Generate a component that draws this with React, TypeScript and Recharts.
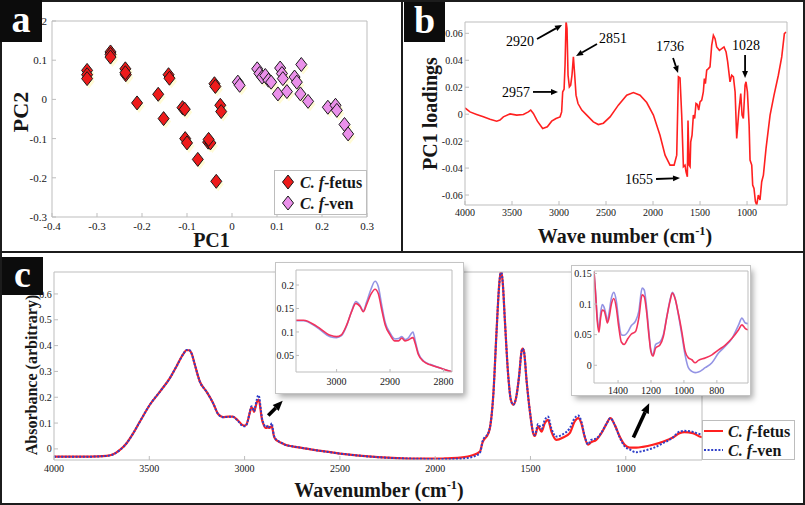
import React from 'react';
import { ScatterChart, Scatter, LineChart, Line, XAxis, YAxis, ReferenceLine, Legend, Label } from 'recharts';

const SERIF = "'Liberation Serif', 'Times New Roman', Times, serif";
const FRAME = '#bdbdbd';
const INK = '#161616';

// ---------- Panel a : PCA scores ----------
const seriesNames = ['C. f-fetus', 'C. f-ven'];
const fetusPC1 = [-0.322, -0.322, -0.322, -0.270, -0.270, -0.270, -0.237, -0.236, -0.237, -0.211, -0.164, -0.152, -0.141, -0.139, -0.110, -0.105, -0.104, -0.100, -0.076, -0.053, -0.048, -0.052, -0.039, -0.037, -0.035, -0.026, -0.024];
const fetusPC2 = [0.074, 0.063, 0.053, 0.121, 0.115, 0.108, 0.078, 0.063, 0.068, -0.009, 0.013, -0.049, 0.063, 0.054, -0.021, -0.025, -0.100, -0.111, -0.153, -0.109, -0.111, -0.102, 0.040, 0.033, -0.209, -0.015, -0.031];
const venPC1 = [0.013, 0.017, 0.056, 0.061, 0.067, 0.074, 0.081, 0.087, 0.102, 0.107, 0.111, 0.113, 0.122, 0.139, 0.144, 0.152, 0.154, 0.169, 0.213, 0.230, 0.233, 0.250, 0.258];
const venPC2 = [0.044, 0.036, 0.078, 0.066, 0.057, 0.061, 0.049, 0.044, 0.014, 0.080, 0.066, 0.053, 0.020, 0.057, 0.044, 0.014, 0.089, -0.005, -0.020, -0.015, -0.028, -0.064, -0.088];
const pc1Ticks = [-0.4, -0.3, -0.2, -0.1, 0, 0.1, 0.2, 0.3];
const pc2Ticks = [-0.3, -0.2, -0.1, 0, 0.1, 0.2];

// ---------- Panel b : PC1 loadings ----------
const loadingWn = [4000, 3947, 3876, 3805, 3734, 3663, 3628, 3592, 3521, 3450, 3379, 3326, 3301, 3273, 3230, 3174, 3124, 3078, 3032, 2989, 2972, 2961, 2946, 2936, 2925, 2915, 2904, 2890, 2876, 2862, 2847, 2833, 2819, 2798, 2758, 2705, 2635, 2582, 2528, 2457, 2369, 2280, 2209, 2138, 2067, 1996, 1926, 1872, 1819, 1776, 1748, 1730, 1713, 1695, 1677, 1660, 1649, 1635, 1628, 1617, 1606, 1599, 1585, 1571, 1557, 1543, 1528, 1514, 1500, 1482, 1465, 1454, 1443, 1429, 1411, 1394, 1376, 1358, 1340, 1323, 1294, 1269, 1245, 1223, 1206, 1181, 1163, 1145, 1127, 1110, 1088, 1067, 1053, 1039, 1021, 1011, 996, 978, 968, 950, 940, 926, 911, 897, 880, 862, 844, 826, 798, 755, 713, 667, 631, 603, 585];
const loadingVal = [0.0046, 0.0017, -0.0002, -0.002, -0.0037, -0.0052, -0.0044, -0.002, 0.0002, -0.0007, -0.0002, 0.0017, 0.003, 0.0005, -0.0052, -0.0106, -0.0094, -0.0052, -0.0032, -0.002, 0.0017, 0.0165, 0.0185, 0.0363, 0.069, 0.0635, 0.0289, 0.0202, 0.0215, 0.0289, 0.0425, 0.0289, 0.0141, 0.0079, 0.003, -0.0007, -0.0057, -0.0077, -0.0067, -0.002, 0.0067, 0.0141, 0.016, 0.0141, 0.0086, -0.0007, -0.0156, -0.0304, -0.0378, -0.0378, -0.0304, 0.0277, 0.0269, -0.0007, -0.039, -0.0378, -0.0427, -0.0464, -0.0047, -0.0378, -0.039, -0.0205, -0.0156, -0.0007, -0.0032, 0.0079, 0.0072, 0.003, 0.0091, 0.0104, 0.0165, 0.0264, 0.0227, 0.0326, 0.0338, 0.0351, 0.0511, 0.0585, 0.056, 0.0499, 0.0474, 0.0486, 0.0499, 0.0462, 0.0388, 0.024, 0.0289, 0.0277, 0.0165, -0.018, 0.0017, 0.0153, -0.0007, -0.0032, 0.0215, 0.024, 0.0165, -0.0081, -0.0341, -0.0378, -0.0526, -0.0551, -0.0649, -0.0674, -0.06, -0.0637, -0.0501, -0.0452, -0.0254, -0.0007, 0.0141, 0.0289, 0.0425, 0.0598, 0.061];
const loadingXTicks = [4000, 3500, 3000, 2500, 2000, 1500, 1000];
const loadingYTicks = [-0.06, -0.04, -0.02, 0, 0.02, 0.04, 0.06];
const peakLabels = ['2920', '2851', '2957', '1736', '1028', '1655'];
const peakArrowStart = [[3234, 0.0558], [2596, 0.0521], [3277, 0.0165], [1787, 0.0417], [1021, 0.044], [1968, -0.0481]];
const peakArrowEnd = [[2968, 0.0662], [2819, 0.0432], [3011, 0.0165], [1734, 0.0306], [1021, 0.0269], [1713, -0.0474]];

// ---------- Panel c : mean spectra ----------
const specWn = [4000, 3900, 3811, 3724, 3689, 3654, 3619, 3584, 3549, 3497, 3444, 3392, 3357, 3322, 3305, 3291, 3279, 3261, 3235, 3200, 3165, 3139, 3113, 3087, 3062, 3037, 3012, 3000, 2991, 2981, 2972, 2964, 2956, 2950, 2944, 2936, 2928, 2922, 2916, 2909, 2900, 2891, 2884, 2878, 2872, 2866, 2857, 2853, 2847, 2837, 2825, 2806, 2787, 2750, 2700, 2600, 2500, 2400, 2300, 2200, 2100, 2000, 1950, 1870, 1800, 1765, 1751, 1740, 1730, 1713, 1695, 1678, 1664, 1655, 1646, 1634, 1617, 1603, 1590, 1576, 1559, 1547, 1541, 1534, 1520, 1503, 1486, 1477, 1460, 1442, 1425, 1408, 1390, 1364, 1329, 1294, 1268, 1250, 1233, 1216, 1198, 1181, 1155, 1128, 1102, 1081, 1058, 1032, 1006, 980, 945, 910, 858, 805, 753, 718, 692, 648, 613, 600];
const specFetus = [
  -0.030, -0.030, -0.030, -0.027, -0.021, -0.004, 0.022, 0.061, 0.106, 0.171,
  0.222, 0.274, 0.320, 0.367, 0.382, 0.382, 0.371, 0.326, 0.261, 0.222,
  0.177, 0.135, 0.123, 0.125, 0.125, 0.112, 0.093, 0.090, 0.094, 0.115,
  0.143, 0.161, 0.154, 0.143, 0.158, 0.180, 0.191, 0.182, 0.150, 0.115,
  0.094, 0.081, 0.081, 0.087, 0.081, 0.083, 0.088, 0.076, 0.052, 0.037,
  0.030, 0.023, 0.016, 0.010, 0.004, -0.008, -0.018, -0.026, -0.032, -0.036,
  -0.038, -0.038, -0.037, -0.034, -0.024, -0.010, 0.026, 0.040, 0.048, 0.080,
  0.209, 0.455, 0.636, 0.690, 0.649, 0.494, 0.287, 0.190, 0.171, 0.196,
  0.287, 0.377, 0.388, 0.377, 0.261, 0.145, 0.061, 0.050, 0.087, 0.067,
  0.099, 0.112, 0.067, 0.035, 0.044, 0.061, 0.106, 0.119, 0.099, 0.048,
  0.016, 0.026, 0.035, 0.061, 0.096, 0.119, 0.093, 0.048, 0.016, 0.005,
  0.005, 0.008, 0.016, 0.028, 0.044, 0.061, 0.065, 0.061, 0.048, 0.045,
];
const specVen = [
  -0.030, -0.030, -0.030, -0.027, -0.021, -0.004, 0.022, 0.061, 0.106, 0.171,
  0.222, 0.274, 0.320, 0.367, 0.383, 0.383, 0.371, 0.326, 0.261, 0.222,
  0.177, 0.135, 0.123, 0.124, 0.124, 0.110, 0.090, 0.088, 0.092, 0.114,
  0.144, 0.165, 0.156, 0.145, 0.163, 0.190, 0.208, 0.197, 0.160, 0.120,
  0.098, 0.085, 0.086, 0.090, 0.084, 0.087, 0.100, 0.082, 0.055, 0.038,
  0.031, 0.023, 0.016, 0.010, 0.004, -0.008, -0.018, -0.026, -0.032, -0.036,
  -0.038, -0.039, -0.039, -0.038, -0.030, -0.015, 0.030, 0.046, 0.052, 0.082,
  0.209, 0.455, 0.636, 0.690, 0.649, 0.494, 0.287, 0.190, 0.171, 0.196,
  0.287, 0.377, 0.388, 0.377, 0.261, 0.145, 0.064, 0.054, 0.096, 0.078,
  0.112, 0.125, 0.078, 0.048, 0.057, 0.080, 0.119, 0.129, 0.106, 0.050,
  0.018, 0.035, 0.040, 0.063, 0.096, 0.119, 0.093, 0.045, 0.010, -0.002,
  -0.013, -0.008, 0.003, 0.022, 0.044, 0.067, 0.070, 0.066, 0.058, 0.057,
];
const specXTicks = [4000, 3500, 3000, 2500, 2000, 1500, 1000];
const specYTicks = [0, 0.1, 0.2, 0.3, 0.4, 0.5, 0.6];
const zoomArrowStart = [[2876, 0.129], [960, 0.044]];
const zoomArrowEnd = [[2800, 0.186], [877, 0.177]];

// inset 1 (C-H stretching region) uses the spectrum arrays above
const insetHiXTicks = [3000, 2900, 2800];
const insetHiYTicks = [0.05, 0.1, 0.15, 0.2];

// inset 2 (fingerprint region)
const insetLoWn = [1546, 1536, 1526, 1516, 1506, 1496, 1485, 1475, 1465, 1455, 1441, 1426, 1410, 1396, 1380, 1363, 1339, 1319, 1294, 1274, 1254, 1241, 1227, 1213, 1201, 1188, 1172, 1146, 1125, 1105, 1085, 1070, 1054, 1034, 1013, 993, 973, 952, 932, 912, 871, 830, 790, 749, 708, 668, 648, 627, 611];
const insetLoFetus = [0.153, 0.115, 0.072, 0.054, 0.077, 0.090, 0.089, 0.080, 0.069, 0.077, 0.099, 0.109, 0.093, 0.063, 0.038, 0.034, 0.044, 0.051, 0.055, 0.077, 0.115, 0.112, 0.088, 0.050, 0.023, 0.015, 0.028, 0.033, 0.047, 0.077, 0.104, 0.118, 0.109, 0.085, 0.055, 0.023, 0.012, 0.009, 0.004, 0.008, 0.012, 0.017, 0.025, 0.033, 0.044, 0.058, 0.066, 0.060, 0.058];
const insetLoVen = [0.153, 0.118, 0.078, 0.058, 0.085, 0.099, 0.095, 0.085, 0.072, 0.085, 0.109, 0.119, 0.104, 0.072, 0.050, 0.049, 0.055, 0.065, 0.072, 0.088, 0.126, 0.123, 0.095, 0.055, 0.025, 0.017, 0.034, 0.038, 0.050, 0.078, 0.106, 0.119, 0.110, 0.083, 0.050, 0.017, -0.004, -0.010, -0.012, -0.011, -0.004, 0.004, 0.020, 0.031, 0.044, 0.066, 0.077, 0.069, 0.068];
const insetLoXTicks = [1400, 1200, 1000, 800];
const insetLoYTicks = [0, 0.05, 0.1, 0.15];

// ---------- built tables ----------
const fetusScores = fetusPC1.map((x, i) => ({ x, y: fetusPC2[i] }));
const venScores = venPC1.map((x, i) => ({ x, y: venPC2[i] }));
const loadingData = loadingWn.map((wn, i) => ({ wn, v: loadingVal[i] }));
const specData = specWn.map((wn, i) => ({ wn, fetus: specFetus[i], ven: specVen[i] }));
const insetLoData = insetLoWn.map((wn, i) => ({ wn, fetus: insetLoFetus[i], ven: insetLoVen[i] }));

// ---------- helpers ----------
const tickFont = (size: number) => ({ fontSize: size, fill: INK, fontFamily: SERIF });
const frameLine = { stroke: FRAME, strokeWidth: 1 };

const renderName = (name: string) => {
  const i = name.indexOf('-');
  return (
    <>
      <tspan fontStyle="italic">{name.slice(0, i)}</tspan>
      <tspan>{name.slice(i)}</tspan>
    </>
  );
};

const xTitle = (content: React.ReactNode, size: number, dy: number, dx: number) => (p: any) => {
  const vb = p && p.viewBox ? p.viewBox : { x: 0, y: 0, width: 0, height: 0 };
  return (
    <text x={vb.x + vb.width / 2 + dx} y={vb.y + dy} textAnchor="middle" fontFamily={SERIF} fontWeight="bold" fontSize={size} fill={INK}>
      {content}
    </text>
  );
};
const yTitle = (content: React.ReactNode, size: number, cxOff: number, cyShift: number) => (p: any) => {
  const vb = p && p.viewBox ? p.viewBox : { x: 0, y: 0, width: 0, height: 0 };
  const cx = vb.x + cxOff;
  const cy = vb.y + vb.height / 2 + cyShift;
  return (
    <text x={cx} y={cy} transform={`rotate(-90 ${cx} ${cy})`} textAnchor="middle" dominantBaseline="central" fontFamily={SERIF} fontWeight="bold" fontSize={size} fill={INK}>
      {content}
    </text>
  );
};
const cmInv = (base: string, size: number) => (
  <>
    <tspan>{base} (cm</tspan>
    <tspan dy={-size * 0.42} fontSize={size * 0.62}>-1</tspan>
    <tspan dy={size * 0.42}>)</tspan>
  </>
);

const arrowShape = (width: number, head: number, text?: string, anchor?: string, dx = 0, dy = 0, fontSize = 14) => (p: any) => {
  const { x1, y1, x2, y2 } = p;
  if (![x1, y1, x2, y2].every((v) => typeof v === 'number' && isFinite(v))) return <g />;
  const ang = Math.atan2(y2 - y1, x2 - x1);
  const hx = x2 - head * Math.cos(ang);
  const hy = y2 - head * Math.sin(ang);
  const px = -Math.sin(ang) * head * 0.42;
  const py = Math.cos(ang) * head * 0.42;
  return (
    <g>
      <line x1={x1} y1={y1} x2={hx} y2={hy} stroke="#000" strokeWidth={width} />
      <polygon points={`${x2},${y2} ${hx + px},${hy + py} ${hx - px},${hy - py}`} fill="#000" />
      {text ? (
        <text x={x1 + dx} y={y1 + dy} textAnchor={anchor as any} dominantBaseline="central" fontFamily={SERIF} fontSize={fontSize} fill="#000">
          {text}
        </text>
      ) : null}
    </g>
  );
};

const diamondShape = (fill: string, shadow: boolean) => (p: any) => {
  const { cx, cy } = p;
  if (typeof cx !== 'number' || typeof cy !== 'number') return <g />;
  const w = 5.5;
  const h = 7;
  const ox = shadow ? 2 : 0;
  const oy = shadow ? 3 : 0;
  return (
    <polygon
      points={`${cx + ox},${cy - h + oy} ${cx + w + ox},${cy + oy} ${cx + ox},${cy + h + oy} ${cx - w + ox},${cy + oy}`}
      fill={shadow ? '#fffbd6' : fill}
      stroke={shadow ? 'none' : '#1a1a1a'}
      strokeWidth={1}
    />
  );
};

const FETUS_DIAMOND = '#ee1b1b';
const VEN_DIAMOND = '#ea90ea';
const FETUS_LINE = '#ff2020';
const VEN_LINE = '#2f3fc8';
const FETUS_INSET = '#f2335c';
const VEN_INSET = '#9494e4';

const panelLetter = (letter: string, left: number, top: number, w: number, h: number) => (
  <div
    style={{
      position: 'absolute', left, top, width: w, height: h, background: '#0c0c0c', color: '#fff',
      fontFamily: SERIF, fontWeight: 'bold', fontSize: 38, lineHeight: `${h - 4}px`, textAlign: 'center',
    }}
  >
    {letter}
  </div>
);

export default function App() {
  return (
    <div style={{ position: 'absolute', left: 0, top: 0, width: 805, height: 505, background: '#fff', overflow: 'hidden' }}>
      {/* Panel a */}
      <div style={{ position: 'absolute', left: 0, top: 0 }}>
        <ScatterChart width={400} height={250} margin={{ top: 20, right: 32, bottom: 0, left: 0 }}>
          <XAxis type="number" dataKey="x" domain={[-0.4, 0.3]} ticks={pc1Ticks} interval={0} allowDataOverflow height={33}
            tickSize={-4} tickMargin={9} axisLine={frameLine} tickLine={frameLine} tick={tickFont(11)}>
            <Label content={xTitle('PC1', 20, 30, 2)} />
          </XAxis>
          <XAxis xAxisId="top" orientation="top" type="number" domain={[-0.4, 0.3]} ticks={pc1Ticks} interval={0} allowDataOverflow height={1}
            tickSize={-4} axisLine={frameLine} tickLine={frameLine} tick={false} />
          <YAxis type="number" dataKey="y" domain={[-0.3, 0.2]} ticks={pc2Ticks} interval={0} allowDataOverflow width={52}
            tickSize={-4} tickMargin={9} axisLine={frameLine} tickLine={frameLine} tick={tickFont(11)}>
            <Label content={yTitle('PC2', 22, 20, -7)} />
          </YAxis>
          <YAxis yAxisId="right" orientation="right" type="number" domain={[-0.3, 0.2]} ticks={pc2Ticks} interval={0} allowDataOverflow width={1}
            tickSize={-4} axisLine={frameLine} tickLine={frameLine} tick={false} />
          <Scatter data={fetusScores} shape={diamondShape(FETUS_DIAMOND, true)} legendType="none" isAnimationActive={false} />
          <Scatter data={venScores} shape={diamondShape(VEN_DIAMOND, true)} legendType="none" isAnimationActive={false} />
          <Scatter name={seriesNames[0]} data={fetusScores} fill={FETUS_DIAMOND} shape={diamondShape(FETUS_DIAMOND, false)} isAnimationActive={false} />
          <Scatter name={seriesNames[1]} data={venScores} fill={VEN_DIAMOND} shape={diamondShape(VEN_DIAMOND, false)} isAnimationActive={false} />
          <Legend
            layout="horizontal" verticalAlign="middle" align="center"
            wrapperStyle={{ left: 274, top: 170, width: 93, height: 45 }}
            content={() => (
              <div style={{ width: 93, height: 45, boxSizing: 'border-box', border: `1px solid ${FRAME}`, background: '#fff' }}>
                <svg width={91} height={43}>
                  {seriesNames.map((n, i) => (
                    <g key={n}>
                      {diamondShape(i === 0 ? FETUS_DIAMOND : VEN_DIAMOND, false)({ cx: 13, cy: 11 + i * 21 })}
                      <text x={25} y={11 + i * 21} dominantBaseline="central" fontFamily={SERIF} fontWeight="bold" fontSize={16} fill={INK}>
                        {renderName(n)}
                      </text>
                    </g>
                  ))}
                </svg>
              </div>
            )}
          />
        </ScatterChart>
      </div>

      {/* Panel b */}
      <div style={{ position: 'absolute', left: 402, top: 0 }}>
        <LineChart width={403} height={250} data={loadingData} margin={{ top: 21, right: 17, bottom: 0, left: 0 }}>
          <XAxis type="number" dataKey="wn" domain={[575, 4000]} reversed ticks={loadingXTicks} interval={0} allowDataOverflow height={45}
            tickSize={-4} tickMargin={7.5} axisLine={frameLine} tickLine={frameLine} tick={tickFont(10)}>
            <Label content={xTitle(cmInv('Wave number', 20), 20, 38, -1)} />
          </XAxis>
          <XAxis xAxisId="top" orientation="top" type="number" domain={[575, 4000]} reversed ticks={loadingXTicks} interval={0} allowDataOverflow height={1}
            tickSize={-4} axisLine={frameLine} tickLine={frameLine} tick={false} />
          <YAxis type="number" domain={[-0.0674, 0.0684]} ticks={loadingYTicks} interval={0} allowDataOverflow width={63}
            tickSize={-4} tickMargin={6.3} axisLine={frameLine} tickLine={frameLine} tick={tickFont(10)}>
            <Label content={yTitle('PC1 loadings', 20, 28, 0)} />
          </YAxis>
          <YAxis yAxisId="right" orientation="right" type="number" domain={[-0.0674, 0.0684]} ticks={loadingYTicks} interval={0} allowDataOverflow width={1}
            tickSize={-4} axisLine={frameLine} tickLine={frameLine} tick={false} />
          <Line type="linear" dataKey="v" stroke={FETUS_LINE} strokeWidth={1.6} dot={false} isAnimationActive={false} />
          {peakLabels.map((lab, i) => {
            const place = [
              ['end', -3, 3], ['start', 2, -5], ['end', -3, 1], ['middle', -3, -11], ['middle', 1, -9], ['end', -3, 1],
            ][i] as [string, number, number];
            return (
              <ReferenceLine key={lab} ifOverflow="visible"
                segment={[{ x: peakArrowStart[i][0], y: peakArrowStart[i][1] }, { x: peakArrowEnd[i][0], y: peakArrowEnd[i][1] }]}
                shape={arrowShape(1.8, 7, lab, place[0], place[1], place[2], 14)} />
            );
          })}
        </LineChart>
      </div>

      {/* Panel c */}
      <div style={{ position: 'absolute', left: 0, top: 254 }}>
        <LineChart width={805} height={251} data={specData} margin={{ top: 17, right: 102, bottom: 0, left: 0 }}>
          <XAxis type="number" dataKey="wn" domain={[600, 4000]} reversed ticks={specXTicks} interval={0} allowDataOverflow height={45}
            tickSize={-4} tickMargin={8.7} axisLine={frameLine} tickLine={frameLine} tick={tickFont(10)}>
            <Label content={xTitle(cmInv('Wavenumber', 20), 20, 37, 1)} />
          </XAxis>
          <XAxis xAxisId="top" orientation="top" type="number" domain={[600, 4000]} reversed ticks={specXTicks} interval={0} allowDataOverflow height={1}
            tickSize={-4} axisLine={frameLine} tickLine={frameLine} tick={false} />
          <YAxis type="number" domain={[-0.043, 0.685]} ticks={specYTicks} interval={0} allowDataOverflow width={54}
            tickSize={-4} tickMargin={6.3} axisLine={frameLine} tickLine={frameLine} tick={tickFont(10)}>
            <Label content={yTitle('Absorbance (arbitrary)', 16, 31, 9)} />
          </YAxis>
          <YAxis yAxisId="right" orientation="right" type="number" domain={[-0.043, 0.685]} ticks={specYTicks} interval={0} allowDataOverflow width={1}
            tickSize={-4} axisLine={frameLine} tickLine={frameLine} tick={false} />
          <Line name={seriesNames[0]} type="monotone" dataKey="fetus" stroke={FETUS_LINE} strokeWidth={2.2} dot={false} isAnimationActive={false} />
          <Line name={seriesNames[1]} type="monotone" dataKey="ven" stroke={VEN_LINE} strokeWidth={2} strokeDasharray="2 1.6" dot={false} isAnimationActive={false} />
          {zoomArrowStart.map((s, i) => (
            <ReferenceLine key={i} ifOverflow="visible"
              segment={[{ x: s[0], y: s[1] }, { x: zoomArrowEnd[i][0], y: zoomArrowEnd[i][1] }]}
              shape={arrowShape(3.6, 10)} />
          ))}
          <Legend
            layout="horizontal" verticalAlign="middle" align="center"
            wrapperStyle={{ left: 702, top: 166, width: 93, height: 40 }}
            content={() => (
              <div style={{ width: 93, height: 40, boxSizing: 'border-box', border: `1px solid ${FRAME}`, background: '#fff' }}>
                <svg width={91} height={38}>
                  {seriesNames.map((n, i) => (
                    <g key={n}>
                      <line x1={1} x2={20} y1={10 + i * 19} y2={10 + i * 19} stroke={i === 0 ? FETUS_LINE : VEN_LINE}
                        strokeWidth={2} strokeDasharray={i === 0 ? undefined : '2 1.6'} />
                      <text x={25} y={10 + i * 19} dominantBaseline="central" fontFamily={SERIF} fontWeight="bold" fontSize={16} fill={INK}>
                        {renderName(n)}
                      </text>
                    </g>
                  ))}
                </svg>
              </div>
            )}
          />
        </LineChart>
      </div>

      {/* Inset 1 */}
      <div style={{ position: 'absolute', left: 276, top: 263, width: 187, height: 130, background: '#fff',
        boxShadow: '0 0 0 1px #c4c4c4, 3px 4px 6px rgba(0,0,0,0.35)' }}>
        <LineChart width={187} height={130} data={specData} margin={{ top: 6, right: 10, bottom: 0, left: 0 }}>
          <XAxis type="number" dataKey="wn" domain={[2784, 3076]} reversed ticks={insetHiXTicks} interval={0} allowDataOverflow height={21}
            tickSize={-3} tickMargin={8.7} axisLine={frameLine} tickLine={frameLine} tick={tickFont(10)} />
          <XAxis xAxisId="top" orientation="top" type="number" domain={[2784, 3076]} reversed ticks={insetHiXTicks} interval={0} allowDataOverflow height={1}
            tickSize={-3} axisLine={frameLine} tickLine={frameLine} tick={false} />
          <YAxis type="number" domain={[0.0147, 0.232]} ticks={insetHiYTicks} interval={0} allowDataOverflow width={20}
            tickSize={-3} tickMargin={5} axisLine={frameLine} tickLine={frameLine} tick={tickFont(10)} />
          <YAxis yAxisId="right" orientation="right" type="number" domain={[0.0147, 0.232]} ticks={insetHiYTicks} interval={0} allowDataOverflow width={1}
            tickSize={-3} axisLine={frameLine} tickLine={frameLine} tick={false} />
          <Line type="monotone" dataKey="ven" stroke={VEN_INSET} strokeWidth={1.6} dot={false} isAnimationActive={false} />
          <Line type="monotone" dataKey="fetus" stroke={FETUS_INSET} strokeWidth={1.6} dot={false} isAnimationActive={false} />
        </LineChart>
      </div>

      {/* Inset 2 */}
      <div style={{ position: 'absolute', left: 572, top: 266, width: 178, height: 129, background: '#fff',
        boxShadow: '0 0 0 1px #c4c4c4, 3px 4px 6px rgba(0,0,0,0.35)' }}>
        <LineChart width={178} height={129} data={insetLoData} margin={{ top: 4, right: 1, bottom: 0, left: 0 }}>
          <XAxis type="number" dataKey="wn" domain={[611, 1546]} reversed ticks={insetLoXTicks} interval={0} allowDataOverflow height={12}
            tickSize={-3} tickMargin={6.7} axisLine={frameLine} tickLine={frameLine} tick={tickFont(10)} />
          <XAxis xAxisId="top" orientation="top" type="number" domain={[611, 1546]} reversed ticks={insetLoXTicks} interval={0} allowDataOverflow height={1}
            tickSize={-3} axisLine={frameLine} tickLine={frameLine} tick={false} />
          <YAxis type="number" domain={[-0.029, 0.154]} ticks={insetLoYTicks} interval={0} allowDataOverflow width={22}
            tickSize={-3} tickMargin={5.3} axisLine={frameLine} tickLine={frameLine} tick={tickFont(10)} />
          <YAxis yAxisId="right" orientation="right" type="number" domain={[-0.029, 0.154]} ticks={insetLoYTicks} interval={0} allowDataOverflow width={1}
            tickSize={-3} axisLine={frameLine} tickLine={frameLine} tick={false} />
          <Line type="monotone" dataKey="ven" stroke={VEN_INSET} strokeWidth={1.6} dot={false} isAnimationActive={false} />
          <Line type="monotone" dataKey="fetus" stroke={FETUS_INSET} strokeWidth={1.6} dot={false} isAnimationActive={false} />
        </LineChart>
      </div>

      {/* panel frames */}
      <div style={{ position: 'absolute', left: 0, top: 0, width: 805, height: 505, boxSizing: 'border-box', border: '2px solid #1c1c1c', pointerEvents: 'none' }} />
      <div style={{ position: 'absolute', left: 401, top: 0, width: 2, height: 252, background: '#1c1c1c' }} />
      <div style={{ position: 'absolute', left: 0, top: 251, width: 805, height: 2, background: '#1c1c1c' }} />

      {panelLetter('a', 0, 0, 42, 42)}
      {panelLetter('b', 404, 2, 41, 40)}
      {panelLetter('c', 2, 257, 41, 38)}
    </div>
  );
}
